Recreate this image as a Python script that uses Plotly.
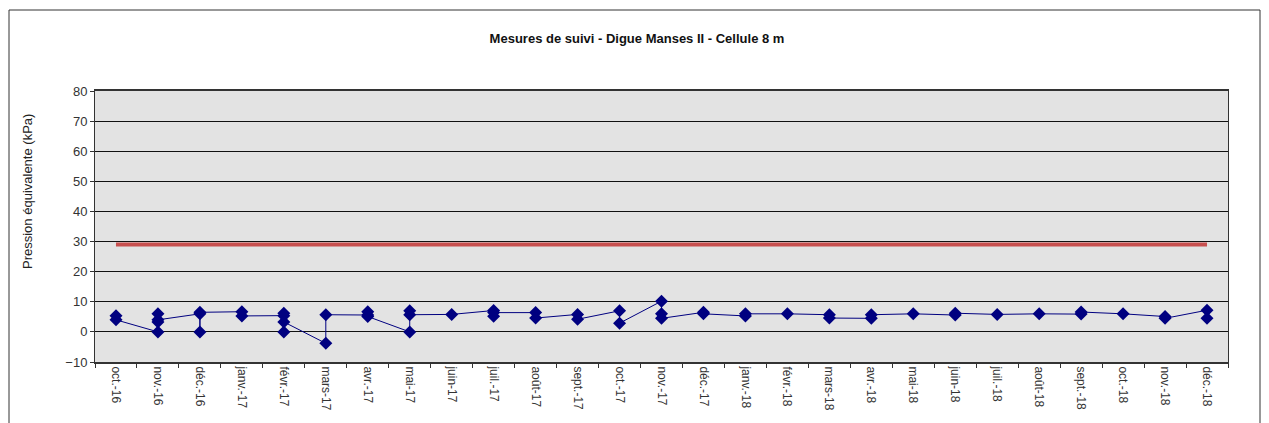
import plotly.graph_objects as go

months = ["oct.-16", "nov.-16", "déc.-16", "janv.-17", "févr.-17", "mars-17", "avr.-17",
          "mai-17", "juin-17", "juil.-17", "août-17", "sept.-17", "oct.-17", "nov.-17",
          "déc.-17", "janv.-18", "févr.-18", "mars-18", "avr.-18", "mai-18", "juin-18",
          "juil.-18", "août-18", "sept.-18", "oct.-18", "nov.-18", "déc.-18"]

# readings per month (kPa), in measurement order
readings = [
    [5.4, 4.0],
    [0.0, 6.0, 3.3, 4.0],
    [6.0, 0.0, 6.5],
    [6.7, 5.3],
    [5.4, 6.2, 0.0, 3.3],
    [-3.8, 5.7],
    [5.6, 6.7, 5.1],
    [0.0, 7.0, 5.7],
    [5.8],
    [7.1, 5.2, 6.4],
    [6.4, 4.6],
    [5.8, 4.2],
    [7.0, 2.9],
    [10.2, 6.0, 4.5],
    [6.5, 6.0],
    [5.3, 6.0],
    [6.0],
    [5.7, 4.6],
    [4.5, 5.7],
    [6.0],
    [5.6, 6.2],
    [5.8],
    [6.0],
    [5.9, 6.6],
    [6.0],
    [5.1, 4.5],
    [7.2, 4.5],
]

threshold = 29.0

x_obs = [m for m, vals in zip(months, readings) for _ in vals]
y_obs = [v for vals in readings for v in vals]

fig = go.Figure()
fig.add_trace(go.Scatter(
    x=[months[0], months[-1]], y=[threshold, threshold],
    mode="lines", line=dict(color="#C8504F", width=4), hoverinfo="skip",
    showlegend=False))
fig.add_trace(go.Scatter(
    x=x_obs, y=y_obs, mode="lines+markers",
    line=dict(color="#000080", width=1),
    marker=dict(symbol="diamond", size=10, color="#000080"),
    showlegend=False))

# page has an 8px body margin; size the figure so it lands where the reference is
OFF = 8
W, H = 1269 - OFF, 423 - OFF
l, r = 95 - OFF, 1269 - 1228
t = 91 - OFF
ph = 362 - 91
b = H - t - ph
pw = W - l - r

fig.update_layout(
    width=W, height=H,
    margin=dict(l=l, r=r, t=t, b=b, autoexpand=False),
    paper_bgcolor="white", plot_bgcolor="#E3E3E3",
    font=dict(family="Liberation Sans, Arial", size=12, color="#222222"),
    title=dict(text="<b>Mesures de suivi - Digue Manses II - Cellule 8 m</b>",
               x=(637 - OFF) / W, xanchor="center", y=1 - (38 - OFF) / H, yanchor="middle",
               font=dict(size=13, color="#111111")),
    xaxis=dict(type="category", categoryorder="array", categoryarray=months,
               range=[-0.5, len(months) - 0.5], tickangle=90, tickson="boundaries",
               ticks="outside", ticklen=4, tickcolor="#333333",
               showline=True, linecolor="#333333", linewidth=2, mirror=True,
               showgrid=False, tickfont=dict(size=12, color="#333333")),
    yaxis=dict(range=[-10, 80], dtick=10, ticks="outside", ticklen=4,
               tickcolor="#333333", showline=True, linecolor="#333333", linewidth=1,
               mirror=True, showgrid=True, gridcolor="#111111", gridwidth=1,
               zeroline=False,
               tickfont=dict(size=13, color="#333333")),
    annotations=[dict(text="Pression équivalente (kPa)", textangle=-90,
                      xref="paper", yref="paper",
                      x=(27 - 95) / pw, y=(362 - 192) / ph,
                      xanchor="center", yanchor="middle", showarrow=False,
                      font=dict(size=13, color="#222222"))],
    shapes=[dict(type="rect", xref="paper", yref="paper",
                 x0=(9 - 95) / pw, x1=(1260 - 95) / pw,
                 y0=(362 - 440) / ph, y1=(362 - 10) / ph,
                 line=dict(color="#333333", width=1), fillcolor="rgba(0,0,0,0)",
                 layer="below")],
)

fig.write_html("out.html")
